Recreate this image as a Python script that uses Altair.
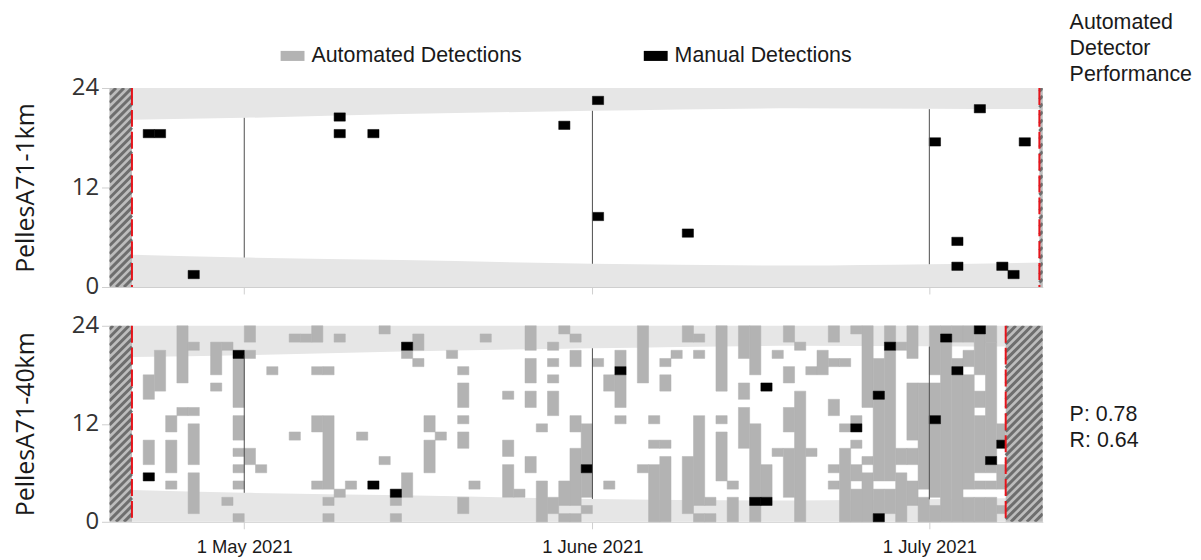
import altair as alt
import pandas as pd

START = pd.Timestamp("2021-04-19")
X_END = 83.1  # days after START shown on the x axis

MONTH_DAYS = [12, 43, 73]
MONTH_LABELS = ["1 May 2021", "1 June 2021", "1 July 2021"]
RULE_LOW = [3.55, 2.8, 2.75]
RULE_HIGH = [20.4, 21.25, 21.45]

BAND_DAYS = [0, 2, 12, 26, 43, 61, 73, 83.1]
SUNRISE = [3.95, 3.88, 3.56, 3.25, 2.8, 2.6, 2.75, 2.95]
SUNSET = [20.1, 20.17, 20.4, 20.85, 21.25, 21.55, 21.5, 21.45]

REC_START = 2.0
REC_END_1KM = 82.8
REC_END_40KM = 79.8

MANUAL_1KM = [
    ("2021-04-22", 18), ("2021-04-23", 18), ("2021-04-26", 1), ("2021-05-09", 20),
    ("2021-05-09", 18), ("2021-05-12", 18), ("2021-05-29", 19), ("2021-06-01", 22),
    ("2021-06-01", 8), ("2021-06-09", 6), ("2021-07-01", 17), ("2021-07-03", 5),
    ("2021-07-03", 2), ("2021-07-05", 21), ("2021-07-07", 2), ("2021-07-08", 1),
    ("2021-07-09", 17),
]

MANUAL_40KM = [
    ("2021-04-22", 5), ("2021-04-30", 20), ("2021-05-12", 4), ("2021-05-14", 3),
    ("2021-05-15", 21), ("2021-05-31", 6), ("2021-06-03", 18), ("2021-06-15", 2),
    ("2021-06-16", 2), ("2021-06-16", 16), ("2021-06-24", 11), ("2021-06-26", 15),
    ("2021-06-26", 0), ("2021-06-27", 21), ("2021-07-01", 12), ("2021-07-02", 22),
    ("2021-07-03", 18), ("2021-07-05", 23), ("2021-07-06", 7), ("2021-07-07", 9),
]

# automated detections at the 40 km site: (day, first hour, last hour)
AUTO_40KM = [
    ("2021-04-22", 7, 9), ("2021-04-22", 15, 17),
    ("2021-04-23", 16, 20),
    ("2021-04-24", 4, 4), ("2021-04-24", 6, 9), ("2021-04-24", 11, 12),
    ("2021-04-25", 13, 13), ("2021-04-25", 17, 23),
    ("2021-04-26", 1, 5), ("2021-04-26", 7, 11), ("2021-04-26", 13, 13), ("2021-04-26", 21, 21),
    ("2021-04-28", 16, 16), ("2021-04-28", 18, 21),
    ("2021-04-29", 2, 2), ("2021-04-29", 21, 21),
    ("2021-04-30", 0, 0), ("2021-04-30", 4, 4), ("2021-04-30", 6, 6), ("2021-04-30", 8, 8),
    ("2021-04-30", 10, 12), ("2021-04-30", 14, 19),
    ("2021-05-01", 7, 8), ("2021-05-01", 20, 20), ("2021-05-01", 22, 23),
    ("2021-05-02", 6, 6),
    ("2021-05-03", 18, 18),
    ("2021-05-05", 10, 10), ("2021-05-05", 22, 22),
    ("2021-05-06", 22, 22),
    ("2021-05-07", 4, 4), ("2021-05-07", 11, 12), ("2021-05-07", 18, 18), ("2021-05-07", 22, 23),
    ("2021-05-08", 0, 0), ("2021-05-08", 2, 2), ("2021-05-08", 4, 12), ("2021-05-08", 18, 18),
    ("2021-05-09", 3, 3), ("2021-05-09", 22, 22),
    ("2021-05-10", 4, 4),
    ("2021-05-11", 10, 10),
    ("2021-05-13", 7, 7), ("2021-05-13", 23, 23),
    ("2021-05-14", 0, 0), ("2021-05-14", 2, 2),
    ("2021-05-15", 3, 5), ("2021-05-15", 20, 20),
    ("2021-05-16", 19, 19), ("2021-05-16", 21, 22),
    ("2021-05-17", 6, 9), ("2021-05-17", 11, 12),
    ("2021-05-18", 10, 10),
    ("2021-05-19", 20, 20),
    ("2021-05-20", 1, 2), ("2021-05-20", 9, 10), ("2021-05-20", 12, 12), ("2021-05-20", 14, 16),
    ("2021-05-20", 18, 18),
    ("2021-05-21", 4, 4),
    ("2021-05-22", 22, 22),
    ("2021-05-24", 3, 6), ("2021-05-24", 8, 9), ("2021-05-24", 15, 15),
    ("2021-05-25", 3, 3),
    ("2021-05-26", 6, 7), ("2021-05-26", 14, 15), ("2021-05-26", 17, 19), ("2021-05-26", 21, 23),
    ("2021-05-27", 0, 4), ("2021-05-27", 11, 11),
    ("2021-05-28", 1, 2), ("2021-05-28", 13, 15), ("2021-05-28", 17, 17), ("2021-05-28", 19, 19),
    ("2021-05-28", 21, 21),
    ("2021-05-29", 0, 0), ("2021-05-29", 2, 4), ("2021-05-29", 23, 23),
    ("2021-05-30", 0, 0), ("2021-05-30", 2, 8), ("2021-05-30", 11, 12), ("2021-05-30", 19, 20),
    ("2021-05-30", 22, 22),
    ("2021-05-31", 1, 1), ("2021-05-31", 3, 5), ("2021-05-31", 7, 11),
    ("2021-06-01", 19, 19),
    ("2021-06-02", 4, 4), ("2021-06-02", 16, 17),
    ("2021-06-03", 12, 12), ("2021-06-03", 14, 17), ("2021-06-03", 19, 20),
    ("2021-06-05", 6, 6), ("2021-06-05", 17, 23),
    ("2021-06-06", 0, 6), ("2021-06-06", 9, 9), ("2021-06-06", 12, 12),
    ("2021-06-07", 0, 7), ("2021-06-07", 9, 9), ("2021-06-07", 16, 17), ("2021-06-07", 19, 19),
    ("2021-06-08", 20, 20),
    ("2021-06-09", 1, 7), ("2021-06-09", 22, 23),
    ("2021-06-10", 0, 0), ("2021-06-10", 2, 12), ("2021-06-10", 20, 20), ("2021-06-10", 22, 22),
    ("2021-06-11", 0, 0), ("2021-06-11", 2, 2),
    ("2021-06-12", 5, 10), ("2021-06-12", 12, 12), ("2021-06-12", 16, 23),
    ("2021-06-13", 0, 2), ("2021-06-13", 4, 4),
    ("2021-06-14", 9, 13), ("2021-06-14", 15, 16), ("2021-06-14", 20, 23),
    ("2021-06-15", 0, 11), ("2021-06-15", 18, 23),
    ("2021-06-16", 3, 6),
    ("2021-06-17", 8, 8), ("2021-06-17", 20, 20),
    ("2021-06-18", 3, 8), ("2021-06-18", 11, 13), ("2021-06-18", 17, 18), ("2021-06-18", 22, 23),
    ("2021-06-19", 0, 15), ("2021-06-19", 21, 21),
    ("2021-06-20", 8, 8), ("2021-06-20", 18, 18),
    ("2021-06-21", 18, 20),
    ("2021-06-22", 4, 4), ("2021-06-22", 6, 6), ("2021-06-22", 13, 14), ("2021-06-22", 19, 19),
    ("2021-06-22", 22, 23),
    ("2021-06-23", 0, 8), ("2021-06-23", 11, 11), ("2021-06-23", 19, 19),
    ("2021-06-24", 0, 3), ("2021-06-24", 5, 6), ("2021-06-24", 9, 9), ("2021-06-24", 12, 12),
    ("2021-06-24", 23, 23),
    ("2021-06-25", 0, 5), ("2021-06-25", 7, 7), ("2021-06-25", 14, 23),
    ("2021-06-26", 1, 3), ("2021-06-26", 5, 19),
    ("2021-06-27", 1, 3), ("2021-06-27", 5, 20), ("2021-06-27", 22, 23),
    ("2021-06-28", 0, 5), ("2021-06-28", 7, 8), ("2021-06-28", 21, 21),
    ("2021-06-29", 2, 4), ("2021-06-29", 7, 8), ("2021-06-29", 10, 16), ("2021-06-29", 20, 23),
    ("2021-06-30", 0, 2), ("2021-06-30", 4, 16),
    ("2021-07-01", 0, 1), ("2021-07-01", 3, 11), ("2021-07-01", 13, 16), ("2021-07-01", 18, 23),
    ("2021-07-02", 0, 21), ("2021-07-02", 23, 23),
    ("2021-07-03", 0, 17), ("2021-07-03", 19, 19), ("2021-07-03", 22, 23),
    ("2021-07-04", 0, 2), ("2021-07-04", 4, 17), ("2021-07-04", 19, 20), ("2021-07-04", 22, 23),
    ("2021-07-05", 0, 2), ("2021-07-05", 4, 4), ("2021-07-05", 6, 12), ("2021-07-05", 14, 15),
    ("2021-07-05", 18, 22),
    ("2021-07-06", 0, 2), ("2021-07-06", 4, 4), ("2021-07-06", 6, 6), ("2021-07-06", 8, 21),
    ("2021-07-06", 22, 23),
    ("2021-07-07", 1, 1), ("2021-07-07", 4, 6), ("2021-07-07", 10, 11),
]

LEGEND_NAMES = ["Automated Detections", "Manual Detections"]
LEGEND_COLORS = ["#b3b3b3", "#000000"]
PERF_TITLE = ["Automated", "Detector", "Performance"]
PERF_TEXT = ["P: 0.78", "R: 0.64"]

W = 938
H_TOP = 200
H_BOT = 197
LBL_FONT = "Liberation Sans"


def day(s):
    return (pd.Timestamp(s) - START).days


def manual_df(rows):
    return pd.DataFrame([
        {"x": day(d), "x2": day(d) + 1, "y": h, "y2": h + 1, "type": LEGEND_NAMES[1]}
        for d, h in rows
    ])


def auto_df(rows, rec_end):
    return pd.DataFrame([
        {"x": day(d), "x2": min(day(d) + 1, rec_end), "y": lo, "y2": hi + 1,
         "type": LEGEND_NAMES[0]}
        for d, lo, hi in rows
    ])


def hatch_df(x0, x1, height_px, step=8.0):
    ppd = W / X_END
    pph = height_px / 24.0
    w = (x1 - x0) * ppd
    rows = []
    k = -w
    while k < height_px:
        u0 = max(0.0, -k)
        u1 = min(w, height_px - k)
        if u1 > u0:
            rows.append({"hx": x0 + u0 / ppd, "hy": (u0 + k) / pph,
                         "hx2": x0 + u1 / ppd, "hy2": (u1 + k) / pph})
        k += step
    return pd.DataFrame(rows)


x_scale = alt.Scale(domain=[0, X_END], nice=False, zero=False)
y_scale = alt.Scale(domain=[0, 24], nice=False, zero=False)
label_expr = " : ".join(
    f"datum.value == {d} ? '{l}'" for d, l in zip(MONTH_DAYS[:-1], MONTH_LABELS[:-1])
) + f" : '{MONTH_LABELS[-1]}'"

color_scale = alt.Scale(domain=LEGEND_NAMES, range=LEGEND_COLORS)

bands = pd.DataFrame({"d": BAND_DAYS, "rise": SUNRISE, "set": SUNSET})
rules = pd.DataFrame({"d": MONTH_DAYS, "lo": RULE_LOW, "hi": RULE_HIGH})


def panel(title, height, rec_end, auto, manual, show_labels, legend, annot, annot_y):
    x_axis = alt.Axis(values=MONTH_DAYS, labels=show_labels, labelExpr=label_expr, title=None,
                      grid=False, domainColor="#cfcfcf", tickColor="#cfcfcf", tickSize=7,
                      labelFont=LBL_FONT, labelFontSize=18.5, labelColor="#1a1a1a",
                      labelPadding=9)
    y_axis = alt.Axis(values=[0, 12, 24], title=title, grid=False, domain=False,
                      tickColor="#cfcfcf", tickSize=8, labelFont="Open Sans", labelFontSize=24,
                      labelColor="#333333", labelPadding=3, titleFont="Open Sans",
                      titleFontSize=25, titleFontWeight="normal", titleColor="#1a1a1a",
                      titlePadding=33)

    def X(f):
        return alt.X(f, scale=x_scale, axis=x_axis)

    def Y(f=None, **kw):
        if f is None:
            return alt.Y(scale=y_scale, axis=y_axis, **kw)
        return alt.Y(f, scale=y_scale, axis=y_axis)

    base = alt.Chart(bands)
    top_band = base.mark_area(color="#e6e6e6", interpolate="monotone").encode(
        x=X("d:Q"), y=Y("set:Q"), y2=alt.Y2(datum=24),
    )
    bot_band = base.mark_area(color="#e6e6e6", interpolate="monotone").encode(
        x=X("d:Q"), y=Y("rise:Q"), y2=alt.Y2(datum=0),
    )
    layers = [top_band, bot_band]
    if auto is not None:
        layers.append(alt.Chart(auto).mark_rect(stroke="#b3b3b3", strokeWidth=0.5).encode(
            x=X("x:Q"), x2="x2:Q", y=Y("y:Q"), y2="y2:Q",
            color=alt.Color("type:N", scale=color_scale, legend=None),
        ))
    mlegend = None
    if legend:
        mlegend = alt.Legend(
            title=None, orient="none", legendX=172, legendY=-44.5, direction="horizontal",
            symbolType="M-1,-0.42H1V0.42H-1Z", symbolSize=576, symbolStrokeWidth=0,
            labelFont=LBL_FONT, labelFontSize=21.5, labelColor="#1a1a1a", labelOffset=7,
            labelLimit=0, columnPadding=122, padding=0,
        )
    layers.append(alt.Chart(manual).mark_rect(stroke="#000000", strokeWidth=0.5).encode(
        x=X("x:Q"), x2="x2:Q", y=Y("y:Q"), y2="y2:Q",
        color=alt.Color("type:N", scale=color_scale, legend=mlegend),
    ))
    layers.append(alt.Chart(rules).mark_rule(color="#4d4d4d", strokeWidth=1).encode(
        x=X("d:Q"), y=Y("lo:Q"), y2="hi:Q",
    ))
    hatch_regions = pd.DataFrame({"x0": [0.0, rec_end], "x1": [REC_START, X_END]})
    layers.append(alt.Chart(hatch_regions).mark_rect(color="#bdbdbd").encode(
        x=X("x0:Q"), x2="x1:Q", y=Y(datum=0), y2=alt.Y2(datum=24),
    ))
    hatch = pd.concat([hatch_df(0.0, REC_START, height), hatch_df(rec_end, X_END, height)])
    layers.append(alt.Chart(hatch).mark_rule(color="#6e6e6e", strokeWidth=3, clip=True).encode(
        x=X("hx:Q"), x2="hx2:Q", y=Y("hy:Q"), y2="hy2:Q",
    ))
    reds = pd.DataFrame({"d": [REC_START, rec_end]})
    layers.append(alt.Chart(reds).mark_rule(color="#e5141b", strokeWidth=2,
                                            strokeDash=[17, 5]).encode(x=X("d:Q")))
    layers.append(alt.Chart(alt.Data(values=[{}])).mark_text(
        text=annot, align="left", baseline="top", font=LBL_FONT,
        fontSize=21.5, lineHeight=26, color="#1a1a1a",
    ).encode(x=alt.value(965), y=alt.value(annot_y)))
    return alt.layer(*layers).properties(width=W, height=height)


top = panel("PellesA71-1km", H_TOP, REC_END_1KM, None, manual_df(MANUAL_1KM),
            False, True, PERF_TITLE, -76)
bottom = panel("PellesA71-40km", H_BOT, REC_END_40KM, auto_df(AUTO_40KM, REC_END_40KM),
               manual_df(MANUAL_40KM), True, False, PERF_TEXT, 79)

chart = alt.vconcat(top, bottom, spacing=15).resolve_scale(
    color="independent").resolve_legend(color="independent").properties(
    padding={"left": 5, "top": 3, "right": 0, "bottom": 5}
).configure_view(stroke=None)

chart.save("out.html", embed_options={"renderer": "svg", "actions": False})
